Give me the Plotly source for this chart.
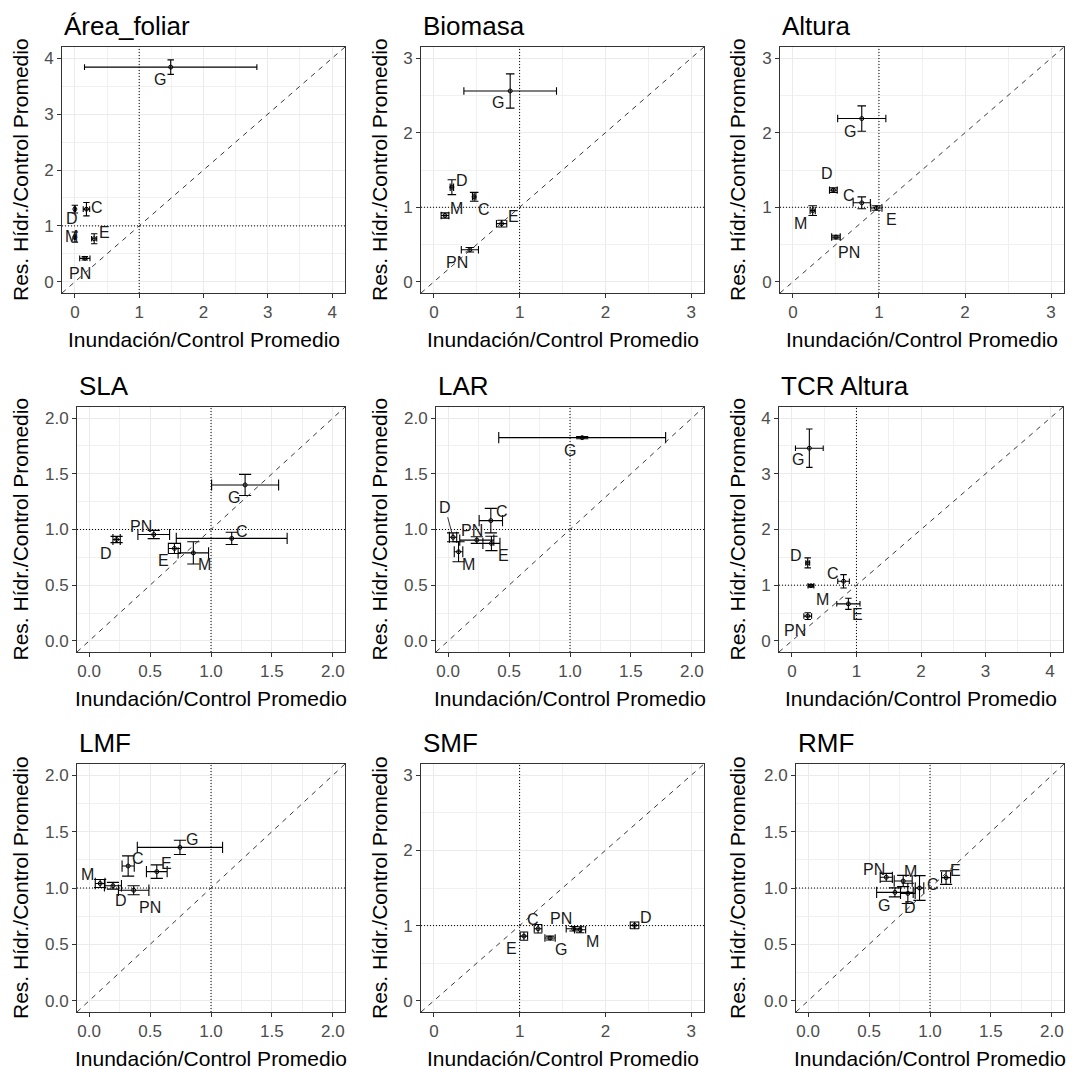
import plotly.graph_objects as go

W, H = 1077, 1070
PAGE_MARGIN = 8  # default body margin of the html page
FW, FH = W - PAGE_MARGIN, H - PAGE_MARGIN
FONT = "Liberation Sans, Arial, sans-serif"

groups = ["C", "D", "E", "G", "M", "PN"]
titles = ["Área_foliar", "Biomasa", "Altura", "SLA", "LAR", "TCR Altura", "LMF", "SMF", "RMF"]
limits = [4, 3, 3, 2, 2, 4, 2, 3, 2]

# values in group order C, D, E, G, M, PN
area_x = [0.18, 0.00, 0.30, 1.49, 0.00, 0.155]
area_xe = [0.05, 0.01, 0.04, 1.34, 0.01, 0.08]
area_y = [1.30, 1.30, 0.77, 3.84, 0.80, 0.42]
area_ye = [0.12, 0.07, 0.09, 0.13, 0.09, 0.03]

biom_x = [0.47, 0.21, 0.79, 0.89, 0.13, 0.42]
biom_xe = [0.02, 0.02, 0.06, 0.54, 0.045, 0.10]
biom_y = [1.14, 1.27, 0.78, 2.56, 0.89, 0.43]
biom_ye = [0.06, 0.10, 0.045, 0.23, 0.035, 0.03]

alt_x = [0.80, 0.47, 0.97, 0.80, 0.23, 0.50]
alt_xe = [0.10, 0.045, 0.065, 0.28, 0.03, 0.05]
alt_y = [1.06, 1.23, 0.99, 2.19, 0.955, 0.60]
alt_ye = [0.08, 0.03, 0.03, 0.17, 0.065, 0.025]

sla_x = [1.17, 0.225, 0.70, 1.28, 0.855, 0.53]
sla_xe = [0.455, 0.03, 0.05, 0.275, 0.125, 0.13]
sla_y = [0.92, 0.91, 0.83, 1.40, 0.79, 0.955]
sla_ye = [0.055, 0.028, 0.045, 0.095, 0.10, 0.037]

lar_x = [0.35, 0.04, 0.355, 1.10, 0.085, 0.235]
lar_xe = [0.096, 0.03, 0.07, 0.685, 0.035, 0.14]
lar_y = [1.08, 0.93, 0.875, 1.825, 0.80, 0.905]
lar_ye = [0.11, 0.04, 0.065, 0.01, 0.09, 0.03]

tcr_x = [0.80, 0.245, 0.875, 0.27, 0.295, 0.245]
tcr_xe = [0.09, 0.03, 0.18, 0.215, 0.045, 0.06]
tcr_y = [1.07, 1.40, 0.665, 3.46, 0.99, 0.445]
tcr_ye = [0.12, 0.09, 0.10, 0.345, 0.02, 0.06]

lmf_x = [0.32, 0.195, 0.555, 0.745, 0.09, 0.365]
lmf_xe = [0.05, 0.07, 0.085, 0.35, 0.04, 0.125]
lmf_y = [1.195, 1.02, 1.145, 1.36, 1.04, 0.98]
lmf_ye = [0.09, 0.03, 0.06, 0.063, 0.035, 0.04]

smf_x = [1.215, 2.34, 1.05, 1.355, 1.705, 1.63]
smf_xe = [0.045, 0.05, 0.043, 0.06, 0.065, 0.087]
smf_y = [0.958, 1.003, 0.86, 0.834, 0.945, 0.958]
smf_ye = [0.057, 0.045, 0.055, 0.025, 0.04, 0.03]

rmf_x = [0.914, 0.818, 1.132, 0.712, 0.78, 0.641]
rmf_xe = [0.035, 0.06, 0.037, 0.15, 0.074, 0.05]
rmf_y = [1.0, 0.952, 1.092, 0.961, 1.062, 1.095]
rmf_ye = [0.11, 0.09, 0.06, 0.04, 0.05, 0.035]

panel_data = [
    (area_x, area_xe, area_y, area_ye),
    (biom_x, biom_xe, biom_y, biom_ye),
    (alt_x, alt_xe, alt_y, alt_ye),
    (sla_x, sla_xe, sla_y, sla_ye),
    (lar_x, lar_xe, lar_y, lar_ye),
    (tcr_x, tcr_xe, tcr_y, tcr_ye),
    (lmf_x, lmf_xe, lmf_y, lmf_ye),
    (smf_x, smf_xe, smf_y, smf_ye),
    (rmf_x, rmf_xe, rmf_y, rmf_ye),
]

# ---- layout / style (page pixels) ----
boxes = [(62, 47, 345, 293), (421, 47, 704, 293), (780, 47, 1064, 293),
         (77, 407, 345, 652), (436, 407, 704, 652), (779, 407, 1063, 652),
         (77, 764, 345, 1012), (421, 764, 704, 1012), (796, 764, 1064, 1012)]
ytitle_cx = [20, 379, 737]


def px_x(p):
    return (p - PAGE_MARGIN) / FW


def px_y(p):
    return 1 - (p - PAGE_MARGIN) / FH


# repelled label offsets in px (dx right, dy down), order C, D, E, G, M, PN
label_off = [
    [(11, -2), (-3, 9), (10, -6), (-11, 12), (-3, -1), (-5, 15)],
    [(10, 13), (10, -7), (12, -7), (-12, 12), (11, -7), (-13, 13)],
    [(-13, -7), (-6, -17), (15, 11), (-12, 13), (-12, 13), (13, 15)],
    [(10, -7), (-11, 14), (-11, 12), (-11, 13), (11, 12), (-13, -8)],
    [(11, -9), (-8, -30), (12, 12), (-12, 13), (10, 13), (-5, -10)],
    [(-11, -8), (-12, -7), (9, 11), (-11, 11), (12, 14), (-13, 14)],
    [(10, -8), (8, 15), (10, -8), (12, -8), (-13, -9), (16, 17)],
    [(-5, -9), (11, -8), (-12, 12), (11, 11), (12, 12), (-13, -10)],
    [(13, -4), (2, 14), (9, -7), (-11, 13), (7, -10), (-12, -8)],
]
segment_labels = {(4, "D")}

fig = go.Figure()
shapes = []
annotations = []
layout = dict(width=FW, height=FH, margin=dict(l=0, r=0, t=0, b=0),
              paper_bgcolor="white", plot_bgcolor="white", showlegend=False,
              font=dict(family=FONT))

for i, (title, lim, data, box) in enumerate(zip(titles, limits, panel_data, boxes)):
    n = i + 1
    xs, xes, ys, yes = data
    l, t, r, b = box
    xa = "x" if n == 1 else f"x{n}"
    ya = "y" if n == 1 else f"y{n}"
    lo, hi = -0.05 * lim, 1.05 * lim
    major = 0.5 if lim == 2 else 1
    fmt = ".1f" if lim == 2 else "d"
    pxu_x = (r - l) / (hi - lo)
    pxu_y = (b - t) / (hi - lo)

    axis_common = dict(range=[lo, hi], dtick=major, tick0=0, tickformat=fmt,
                       showgrid=True, gridcolor="#EBEBEB", gridwidth=1.1,
                       minor=dict(dtick=major / 2, tick0=0, showgrid=True,
                                  gridcolor="#F0F0F0", gridwidth=0.6),
                       zeroline=False, showline=True, mirror=True,
                       linecolor="#333333", linewidth=1,
                       ticks="outside", ticklen=4, tickwidth=1, tickcolor="#333333",
                       tickfont=dict(family=FONT, size=17, color="#4D4D4D"),
                       fixedrange=True)
    layout["xaxis" if n == 1 else f"xaxis{n}"] = dict(
        axis_common, domain=[px_x(l), px_x(r)], anchor=ya)
    layout["yaxis" if n == 1 else f"yaxis{n}"] = dict(
        axis_common, domain=[px_y(b), px_y(t)], anchor=xa)

    # reference lines
    shapes.append(dict(type="line", xref=xa, yref=f"{ya} domain", x0=1, x1=1, y0=0, y1=1,
                       line=dict(color="black", width=1, dash="1px,2px"), layer="above"))
    shapes.append(dict(type="line", xref=f"{xa} domain", yref=ya, x0=0, x1=1, y0=1, y1=1,
                       line=dict(color="black", width=1, dash="1px,2px"), layer="above"))
    shapes.append(dict(type="line", xref=xa, yref=ya, x0=lo, y0=lo, x1=hi, y1=hi,
                       line=dict(color="#3a3a3a", width=1, dash="5px,5px"), layer="above"))

    fig.add_trace(go.Scatter(
        x=xs, y=ys, mode="markers", xaxis=xa, yaxis=ya, text=groups,
        marker=dict(symbol="circle-open", size=4, color="black", line=dict(width=1)),
        error_x=dict(type="data", array=xes, visible=True, color="black",
                     thickness=1.1, width=0.05 * pxu_y),
        error_y=dict(type="data", array=yes, visible=True, color="black",
                     thickness=1.1, width=0.05 * pxu_x),
        hoverinfo="text+x+y"))

    # point labels
    for g, x, y, (dx, dy) in zip(groups, xs, ys, label_off[i]):
        if (i, g) in segment_labels:
            annotations.append(dict(x=x, y=y, xref=xa, yref=ya, text=g, showarrow=True,
                                    arrowhead=0, arrowwidth=1, arrowcolor="#333333",
                                    ax=dx, ay=dy, standoff=2,
                                    font=dict(family=FONT, size=16, color="#1a1a1a")))
        else:
            annotations.append(dict(x=x, y=y, xref=xa, yref=ya, text=g, showarrow=False,
                                    xshift=dx, yshift=-dy,
                                    font=dict(family=FONT, size=16, color="#1a1a1a")))

    # panel title
    annotations.append(dict(x=px_x(l), y=px_y(t - 21), xref="paper", yref="paper",
                            text=title, showarrow=False, xanchor="left", yanchor="middle",
                            font=dict(family=FONT, size=26, color="black")))
    # axis titles
    annotations.append(dict(x=px_x((l + r) / 2), y=px_y(b + 46), xref="paper", yref="paper",
                            text="Inundación/Control Promedio", showarrow=False,
                            xanchor="center", yanchor="middle",
                            font=dict(family=FONT, size=21, color="black")))
    annotations.append(dict(x=px_x(ytitle_cx[i % 3]), y=px_y((t + b) / 2), xref="paper",
                            yref="paper", text="Res. Hídr./Control Promedio", showarrow=False,
                            textangle=-90, xanchor="center", yanchor="middle",
                            font=dict(family=FONT, size=21, color="black")))

layout["shapes"] = shapes
layout["annotations"] = annotations
fig.update_layout(**layout)
fig.write_html("out.html")
